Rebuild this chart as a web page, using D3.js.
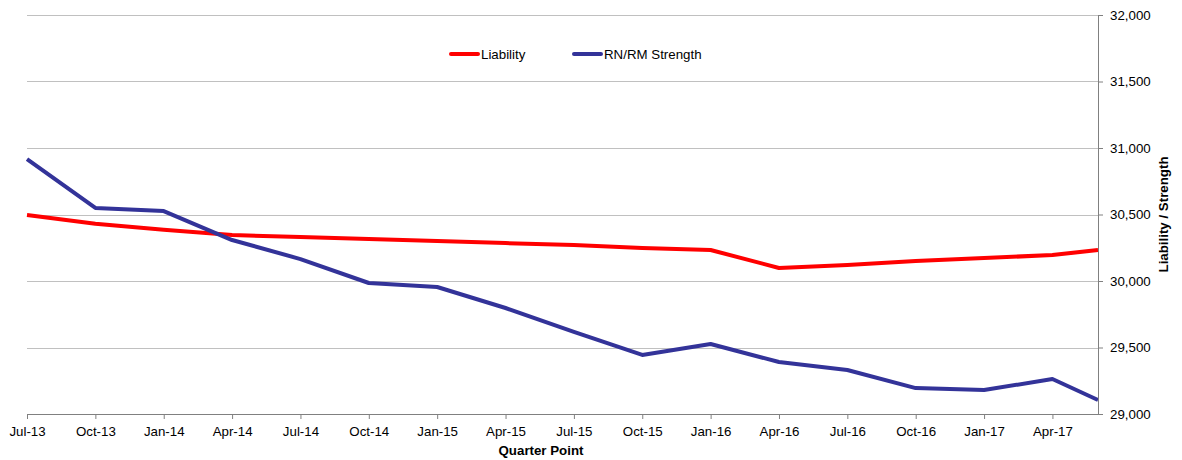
<!DOCTYPE html>
<html>
<head>
<meta charset="utf-8">
<script src="https://cdn.jsdelivr.net/npm/d3@7"></script>
<style>
  body { margin: 0; background: #fff; }
  text { font-family: "Liberation Sans", Arial, sans-serif; fill: #000; }
</style>
</head>
<body>
<svg id="chart" width="1182" height="460"></svg>
<script>
// data points (month of observation), last point is Jun-17
let pointMonths = ["2013-07", "2013-10", "2014-01", "2014-04", "2014-07", "2014-10", "2015-01", "2015-04",
    "2015-07", "2015-10", "2016-01", "2016-04", "2016-07", "2016-10", "2017-01", "2017-04", "2017-06"];

let liability = [30496, 30430, 30385, 30346, 30330, 30316, 30300, 30285,
    30270, 30248, 30233, 30098, 30120, 30150, 30173, 30195, 30233];
let strength = [30917, 30549, 30526, 30308, 30165, 29985, 29955, 29797,
    29617, 29444, 29526, 29391, 29331, 29195, 29180, 29263, 29105];

// quarter ticks on the x axis
let tickMonths = ["2013-07", "2013-10", "2014-01", "2014-04", "2014-07", "2014-10", "2015-01", "2015-04",
    "2015-07", "2015-10", "2016-01", "2016-04", "2016-07", "2016-10", "2017-01", "2017-04"];
let tickLabels = ["Jul-13", "Oct-13", "Jan-14", "Apr-14", "Jul-14", "Oct-14", "Jan-15", "Apr-15",
    "Jul-15", "Oct-15", "Jan-16", "Apr-16", "Jul-16", "Oct-16", "Jan-17", "Apr-17"];

let yTicks = [29000, 29500, 30000, 30500, 31000, 31500, 32000];

let redColor = "#ff0000";
let blueColor = "#333399";

// months since Jan-2000, so the date axis is spaced by month like in excel
function monthNum(s) {
    let parts = s.split("-");
    return (Number(parts[0]) - 2000) * 12 + Number(parts[1]) - 1;
}

function drawChart(svgId) {
    let svg = d3.select(svgId);

    let left = 27, right = 1098, top = 15, bottom = 414;
    let fontSize = "13.3px";

    let x = d3.scaleLinear()
        .domain([monthNum(pointMonths[0]), monthNum(pointMonths[pointMonths.length - 1])])
        .range([left, right]);

    let y = d3.scaleLinear()
        .domain([29000, 32000])
        .range([bottom, top]);

    // gridlines
    svg.append("g")
        .selectAll("line")
        .data(yTicks.slice(1))
        .enter().append("line")
            .attr("x1", left)
            .attr("x2", right)
            .attr("y1", d => Math.round(y(d)) + 0.5)
            .attr("y2", d => Math.round(y(d)) + 0.5)
            .style("stroke", "#c0c0c0")
            .style("stroke-width", 1);

    // data lines
    let line = d3.line()
        .x((d, i) => x(monthNum(pointMonths[i])))
        .y(d => y(d));

    svg.append("path")
        .datum(liability)
        .attr("d", line)
        .style("fill", "none")
        .style("stroke", redColor)
        .style("stroke-width", 4)
        .style("stroke-linejoin", "round");

    svg.append("path")
        .datum(strength)
        .attr("d", line)
        .style("fill", "none")
        .style("stroke", blueColor)
        .style("stroke-width", 4)
        .style("stroke-linejoin", "round");

    // bottom axis
    let xAxis = d3.axisBottom(x)
        .tickValues(tickMonths.map(monthNum))
        .tickSize(5)
        .tickFormat((d, i) => tickLabels[i]);
    let gx = svg.append("g")
        .attr("transform", "translate(0," + bottom + ")")
        .call(xAxis);
    gx.select(".domain").attr("d", "M" + left + ",0.5H" + right).style("stroke", "#808080");
    gx.selectAll(".tick line").style("stroke", "#808080");
    gx.selectAll(".tick text")
        .attr("y", 13)
        .style("font-size", fontSize);

    // right axis
    let yAxis = d3.axisRight(y)
        .tickValues(yTicks)
        .tickSize(5)
        .tickPadding(7)
        .tickFormat(d3.format(","));
    let gy = svg.append("g")
        .attr("transform", "translate(" + right + ",0)")
        .call(yAxis);
    gy.select(".domain").attr("d", "M0.5," + top + "V" + (bottom + 1)).style("stroke", "#808080");
    gy.selectAll(".tick line").style("stroke", "#808080");
    gy.selectAll(".tick text").style("font-size", fontSize);
    gx.selectAll("text").style("fill", "#000");
    gy.selectAll("text").style("fill", "#000");

    // axis titles
    svg.append("text")
        .attr("x", 541)
        .attr("y", 455)
        .attr("text-anchor", "middle")
        .style("font-size", fontSize)
        .style("font-weight", "bold")
        .text("Quarter Point");

    svg.append("text")
        .attr("transform", "translate(1168," + ((top + bottom) / 2) + ") rotate(-90)")
        .attr("text-anchor", "middle")
        .style("font-size", fontSize)
        .style("font-weight", "bold")
        .text("Liability / Strength");

    // legend
    let legend = [
        {name: "Liability", color: redColor, x: 451},
        {name: "RN/RM Strength", color: blueColor, x: 574}
    ];
    let lg = svg.append("g").selectAll("g")
        .data(legend)
        .enter().append("g")
            .attr("transform", d => "translate(" + d.x + ",54)");
    lg.append("line")
        .attr("x1", 0)
        .attr("x2", 27)
        .style("stroke", d => d.color)
        .style("stroke-width", 4)
        .style("stroke-linecap", "round");
    lg.append("text")
        .attr("x", 30)
        .attr("y", 5)
        .style("font-size", fontSize)
        .text(d => d.name);
}

drawChart("#chart");
</script>
</body>
</html>
